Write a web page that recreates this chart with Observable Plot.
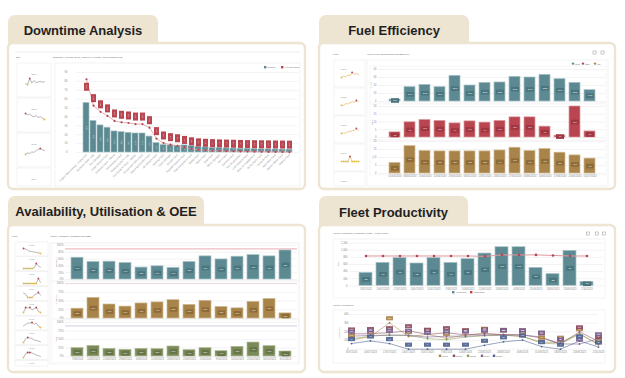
<!DOCTYPE html>
<html><head><meta charset="utf-8">
<script src="https://cdn.jsdelivr.net/npm/d3@7"></script>
<script src="https://cdn.jsdelivr.net/npm/@observablehq/plot@0.6"></script>
<style>
html,body{margin:0;padding:0;background:#fff;}
#root{position:relative;width:625px;height:378px;overflow:hidden;font-family:"Liberation Sans",Arial,sans-serif;}
</style></head><body><div id="root"></div>
<script>
// ---------------- DATA ----------------
const downtimeCats = ["Engine Overheating - Unplanned","Hydraulic Hose Leak","Tyre Damage","Brake System Fault","Electrical Fault - Wiring","Transmission Fault","Cooling System Leak","Fuel System Fault - Injector","Suspension Strut Fault","Steering Cylinder Fault","Air System Fault","Lighting Fault","Body Damage","Sensor Fault","Payload System Fault","Cab Equipment Fault","Radio Fault","Wiper Fault","Seat Fault","Mirror Damage","Horn Fault","Camera Fault","Fire Suppression","Lube System Fault","Ground Engagement","Dump Body Fault","Exhaust Fault","Alternator Fault","Starter Motor Fault","Battery Fault"];
const downtimeHours = [55.7,35.5,30.5,27.9,23.7,22.9,22.1,21.4,21.4,17.9,10.7,8.4,8.0,7.6,8.0,7.3,6.5,5.7,5.0,4.8,4.6,4.4,4.2,4.0,3.8,3.6,3.5,3.4,3.3,3.2];
const downtimePct = [82.4,52.7,45.8,41.2,35.5,34.0,33.2,32.0,32.0,27.9,15.6,10.7,8.8,7.6,5.7,4.2,3.0,2.5,2.1,1.8,1.6,1.4,1.2,1.0,0.9,0.8,0.7,0.6,0.5,0.4];
const downtimeTicks = [0,10,20,30,40,50,60,70,80,90];

const fuelWeeks = ["01/04/2024","08/04/2024","15/04/2024","22/04/2024","29/04/2024","06/05/2024","13/05/2024","20/05/2024","27/05/2024","03/06/2024","10/06/2024","17/06/2024","24/06/2024","01/07/2024"];
const fuelLitres = [2.5,17.9,20.8,17.9,32.1,20.0,23.3,23.8,30.8,30.0,33.3,27.9,23.3,14.2];
const fuelRatio = [3.3,9.8,11.3,10.7,9.1,10.4,9.6,10.7,13.0,13.0,7.0,1.2,20.0,3.9];
const fuelRate = [6.6,17.1,14.0,13.8,13.8,13.8,13.8,14.4,16.1,14.0,15.3,13.0,11.3,9.3];

const availWeeks = ["7/08/2023","14/08/2023","21/08/2023","28/08/2023","4/09/2023","11/09/2023","18/09/2023","25/09/2023","2/10/2023","9/10/2023","16/10/2023","23/10/2023","30/10/2023","6/11/2023"];
const availability = [64,51.5,52.4,48.5,35,38.8,34,51.5,68,59,67,71.8,68,85.4];
const utilisation = [28,59,40,34,43,46,52.4,39,50.5,33,29,47.6,56,14.6];
const oee = [24.5,31,22.5,19.6,22.5,21.6,29.4,18.6,24.5,15.7,28.4,41,30.4,14.7];
const availTarget = 90, utilTarget = 100, oeeTarget = 90;
const pctTicks = [0,20,40,60,80,100];
const pctTicks4 = [0,25,50,75,100];

const prodWeeks = ["3/07/2023","10/07/2023","17/07/2023","24/07/2023","31/07/2023","7/08/2023","14/08/2023","21/08/2023","28/08/2023","4/09/2023","11/09/2023","18/09/2023","25/09/2023","2/10/2023"];
const actualTons = [365,646,778,628,778,646,750,909,1087,1087,506,328,984,112];
const targetTons = [840,840,840,840,840,840,840,830,870,870,870,855,840,840];
const tonTicks = [0,200,400,600,800,1000,1200];

const opNames = ["OP001","OP002","OP003","OP004","OP005"];
const opGold = [107,145,305,145,171,126,164,183,164,145,80,80,179,50];
const opMaroon = [175,180,190,213,170,190,165,175,170,165,130,60,200,90];
const opGreen = [120,150,165,160,120,110,140,155,160,150,70,60,175,60];
const opPurple = [150,160,160,160,140,150,150,160,165,165,140,60,60,120];
const opNavy = [65,95,65,0,0,0,0,45,85,105,30,0,95,25];
const prodTicks = [0,100,200,300,400];

const dtSparkNames = ["DT01","DT02","DT03","DT04"];
const dtSparks = [[3.2,3.0,4.8,3.4,4.2,3.6,3.8,3.9,3.7,3.8],[5.6,5.2,5.4,4.9,4.6,5.0,4.4,4.7,4.2,3.8],[3.0,3.4,3.2,3.6,3.5,3.9,4.2,4.4,4.1,3.9]];
const fuelSparkNames = ["DT01 A","DT02 A","DT03 A","DT04 A","DT05 A"];
const fuelSparks = [[2.0,2.4,2.2,2.8,2.6,3.6,3.0,3.2,2.9],[2.0,2.1,2.5,2.4,2.7,3.0,2.8,3.3,3.0],[2.1,2.3,2.2,2.7,2.6,3.0,2.9,3.6,3.0],[1.0,1.0,1.0,1.0,3.8,1.0,1.0,1.0,1.0]];
const availSparkNames = ["HT001","HT002","HT003","HT004","HT005","HT006","HT007","HT008","HT009"];
const availSparks = [[6,5.5,4.2,3.8,3.4,3.2,2.8,2.2],[2,2,2,2,2,2.2,4,3,2.5],[2,2,2,2,2,2,2,4,2.5],[4,3.5,2,2,2,3,3.5,4.2,3],[2,4,3.8,4,3,3.5,4,2.5,2],[3,3.5,4,4,4.2,3.6,4,3,2.5],[2,3.5,4,3.8,3.6,3,2.8,2.6,2.2],[2,3.5,4,4,3.8,3.4,3,2.8,2.4]];

// ---------------- STYLE ----------------
const FONT = "Liberation Sans, Arial, sans-serif";
const TEAL="#5d8a92", TEAL_L="#a6c2c6", TEAL_D="#4a757d";
const RED="#b8454f", RED_L="#dc9aa1", RED_D="#9f3641";
const GOLD="#a8834a", GOLD_L="#d2bb92", GOLD_D="#8e6c37";
const OLIVE="#7b8a59", OLIVE_L="#b0ba94", OLIVE_D="#66744a";
const MAROON="#8d4a5e", PURPLE="#7c6392", NAVY="#4d6090", GREEN="#8aa05a";
const BEIGE="#ede4d2";
const root = document.getElementById("root");

// ---------------- DECORATION ----------------
const deco = d3.select(root).append("svg").attr("width",625).attr("height",378)
  .style("position","absolute").style("left","0").style("top","0");
function rect(x,y,w,h,a){const r=deco.append("rect").attr("x",x).attr("y",y).attr("width",w).attr("height",h);for(const k in a)r.attr(k,a[k]);return r;}
function text(x,y,s,a){const t=deco.append("text").attr("x",x).attr("y",y).text(s).style("font-family",FONT);for(const k in a)t.attr(k,a[k]);return t;}
function vtext(x,y,s,size){text(x,y,s,{"font-size":size,fill:"#777","text-anchor":"middle",transform:`rotate(-90 ${x} ${y})`});}
const small = (x,y,s,size=2.4,fill="#666")=>text(x,y,s,{"font-size":size,fill});
const panels = [
  {title:"Downtime Analysis", tab:[8,15,150], card:[8,43,297,146], ty:34.5},
  {title:"Fuel Efficiency", tab:[319,15,150], card:[319,43,296,146], ty:35},
  {title:"Availability, Utilisation & OEE", tab:[8,196,196], card:[8,225,297,147], ty:216},
  {title:"Fleet Productivity", tab:[319,196,149], card:[319,225,296,147], ty:216.5}
];
for (const p of panels) {
  rect(p.tab[0],p.tab[1],p.tab[2],36,{rx:7,fill:BEIGE});
  rect(p.card[0],p.card[1],p.card[2],p.card[3],{rx:5,fill:"#fff",stroke:BEIGE,"stroke-width":2.4});
  text(p.tab[0]+p.tab[2]/2,p.ty,p.title,{"text-anchor":"middle","font-size":13,"font-weight":"bold",fill:"#1f1f1f"});
}
const boxStyle = {fill:"#fff",stroke:"#ececec","stroke-width":0.6};
// Panel 1
deco.append("line").attr("x1",15).attr("x2",300).attr("y1",52).attr("y2",52).attr("stroke","#e4e4e4").attr("stroke-width",0.6);
small(16,58,"Site"); small(53,58,"Downtime Analysis: Delay Hours & % of Total - Delay Engineering");
for (let i=0;i<4;i++){const y=63+35*i;rect(17,y,34,Math.min(34,186-y),boxStyle);small(34,y+12,dtSparkNames[i],2,"#888").attr("text-anchor","middle");}
rect(55,63,245,123,boxStyle);
rect(264,66,2.4,2.4,{fill:TEAL}); small(267.5,68.3,"Duration",2.1);
rect(281,66,2.4,2.4,{fill:RED}); small(284.5,68.3,"% of Total Delay",2.1);
// Panel 2
small(333,55,"Fleet"); small(367,55,"Hauler Fuel Consumption and Efficiency");
rect(593,51,3,3,{fill:"none",stroke:"#999","stroke-width":0.5}); rect(601,51,3,3,{fill:"none",stroke:"#999","stroke-width":0.5});
for (let i=0;i<5;i++){const y=60+28*i;rect(334,y,31,Math.min(27,186-y),boxStyle);small(341,y+10,fuelSparkNames[i],2,"#888");}
rect(367,60,241,126,boxStyle);
rect(370,66,236,37,{fill:"none",stroke:"#f0f0f0","stroke-width":0.6});
rect(370,104,236,36,{fill:"none",stroke:"#f0f0f0","stroke-width":0.6});
rect(370,140,236,35,{fill:"none",stroke:"#f0f0f0","stroke-width":0.6});
[[TEAL,573,"Litres"],[RED,583,"Ratio"],[GOLD,595,"L/hr"]].forEach(([c,x,s])=>{deco.append("circle").attr("cx",x).attr("cy",63.6).attr("r",1.2).attr("fill",c);small(x+2,64.5,s,2);});
vtext(372,85,"Litres",2.2); vtext(373,122,"Ratio",2.2); vtext(373,157,"L/hr",2.2);
// Panel 3
small(12,237,"Fleet"); small(50,237,"Hauler Availability, Utilisation and OEE");
for (let i=0;i<9;i++){const y=242+14.8*i;rect(15,y,33,Math.min(14,366-y),boxStyle);small(31.5,y+3.6,availSparkNames[i],1.8,"#888").attr("text-anchor","middle");}
rect(50,243,249,121,boxStyle);
rect(52,243,247,38,{fill:"none",stroke:"#f0f0f0","stroke-width":0.6});
rect(52,281,247,38,{fill:"none",stroke:"#f0f0f0","stroke-width":0.6});
rect(52,320,247,42,{fill:"none",stroke:"#f0f0f0","stroke-width":0.6});
vtext(57,262,"Availability",2.2); vtext(57,300,"Utilisation",2.2); vtext(57,339,"OEE",2.2);
// Panel 4
small(333,234,"Weekly Production (Production Mode + Truck Mode)");
[588,597,604].forEach(x=>rect(x-1.5,232,3,3,{fill:"none",stroke:"#999","stroke-width":0.5}));
rect(333,239,272,59,boxStyle);
rect(452,291,2.4,2.4,{fill:TEAL}); small(456,293.2,"Actual Tons",2);
rect(470,291,2.4,2.4,{fill:RED}); small(474,293.2,"Target Tons",2);
vtext(339,264,"Tons",2.2);
small(333,306,"Weekly Productivity");
rect(333,310,272,53,boxStyle);
vtext(340,332,"Productivity",2.2);
const opColors = [GOLD,MAROON,GREEN,PURPLE,NAVY];
[440,454,468,482,494].forEach((x,i)=>{rect(x-1.2,354.6,2.4,2.4,{fill:opColors[i]});small(x+2,356.8,opNames[i],1.9);});

// ---------------- PLOT HELPERS ----------------
function plotAt(x,y,opts){
  const svg = Plot.plot({...opts, style:{fontFamily:FONT,fontSize:"2.6px",color:"#8a8a8a",background:"transparent",overflow:"visible"}});
  svg.style.position="absolute"; svg.style.left=x+"px"; svg.style.top=y+"px"; svg.style.maxWidth="none";
  root.appendChild(svg);
}
const box = (w,h)=>({draw(ctx){ctx.moveTo(-w/2,-h/2);ctx.lineTo(w/2,-h/2);ctx.lineTo(w/2,h/2);ctx.lineTo(-w/2,h/2);ctx.closePath();}});
function barSet(data, color, light, dark, fmt, opts={}){
  return [
    Plot.barY(data,{x:"k",y:"v",fill:color,stroke:light,strokeWidth:0.7}),
    Plot.dot(data,{x:"k",y:d=>d.v/2,symbol:box(opts.bw||8,opts.bh||4.6),fill:dark,stroke:"none"}),
    Plot.text(data,{x:"k",y:d=>d.v/2,text:d=>fmt(d.v),fill:"white",fontSize:1.9})
  ];
}
function spark(x,y,w,h,vals,stroke){
  const d = vals.map((v,i)=>({i,v}));
  const mx=d3.max(vals), mn=d3.min(vals);
  plotAt(x,y,{width:w,height:h,marginTop:1,marginBottom:1,marginLeft:1,marginRight:1,x:{axis:null},y:{axis:null},marks:[
    Plot.line(d,{x:"i",y:"v",stroke,strokeWidth:0.6}),
    Plot.dot(d.filter(p=>p.v===mx),{x:"i",y:"v",r:0.9,fill:RED}),
    Plot.dot(d.filter(p=>p.v===mn),{x:"i",y:"v",r:0.9,fill:"#e6bd45"})
  ]});
}

// ---------------- PANEL 1: DOWNTIME ----------------
const dt = downtimeCats.map((c,i)=>({k:c,v:downtimeHours[i],p:downtimePct[i],i}));
plotAt(58,64,{
  width:242,height:120,marginLeft:18,marginRight:2,marginTop:8,marginBottom:32,
  x:{type:"band",domain:downtimeCats,padding:0.2,tickSize:0,tickRotate:-45,label:null,tickPadding:2},
  y:{domain:[0,90],ticks:downtimeTicks,grid:true,tickSize:0,label:null},
  marks:[
    Plot.barY(dt,{x:"k",y:"v",fill:TEAL,stroke:TEAL_L,strokeWidth:0.6}),
    Plot.text(dt,{x:"k",y:d=>d.v/2,text:d=>d.v.toFixed(1),rotate:-90,fill:"white",fontSize:1.8}),
    Plot.line(dt,{x:"k",y:"p",stroke:RED_L,strokeWidth:0.8}),
    Plot.dot(dt,{x:"k",y:"p",r:1.1,fill:RED}),
    Plot.dot(dt.filter(d=>d.i>0),{x:"k",y:"p",symbol:box(5,8),fill:RED,stroke:"none",dy:-7.5}),
    Plot.text(dt.filter(d=>d.i>0),{x:"k",y:"p",text:d=>d.p.toFixed(1),rotate:-90,fill:"white",fontSize:1.8,dy:-7.5}),
    Plot.dot(dt.filter(d=>d.i===0),{x:"k",y:"p",symbol:box(5,8),fill:RED,stroke:"none",dy:7.5}),
    Plot.text(dt.filter(d=>d.i===0),{x:"k",y:"p",text:d=>d.p.toFixed(1),rotate:-90,fill:"white",fontSize:1.8,dy:7.5})
  ]
});
dtSparks.forEach((s,i)=>spark(24,63+35*i+14,21,8,s,"#8a8a8a"));

// ---------------- PANEL 2: FUEL ----------------
const fl = fuelWeeks.map((k,i)=>({k,v:fuelLitres[i]}));
const fr = fuelWeeks.map((k,i)=>({k,v:fuelRatio[i]}));
const fh = fuelWeeks.map((k,i)=>({k,v:fuelRate[i]}));
const fuelX = {type:"band",domain:fuelWeeks,padding:0.3,label:null};
plotAt(367,66,{width:241,height:37,marginLeft:11,marginRight:3,marginTop:3,marginBottom:2,
  x:{...fuelX,axis:null},y:{domain:[0,40],ticks:[0,10,20,30,40],grid:true,tickSize:0,label:null,tickPadding:2},
  marks:barSet(fl,TEAL,TEAL_L,TEAL_D,v=>v.toFixed(2))});
plotAt(367,103,{width:241,height:37,marginLeft:11,marginRight:3,marginTop:3,marginBottom:3,
  x:{...fuelX,axis:null},y:{domain:[0,20],ticks:[0,5,10,15,20],grid:true,tickSize:0,label:null,tickPadding:2},
  marks:barSet(fr,RED,RED_L,RED_D,v=>v.toFixed(1))});
plotAt(367,138,{width:241,height:48,marginLeft:11,marginRight:3,marginTop:3,marginBottom:13,
  x:{...fuelX,tickSize:0,tickPadding:2,fontSize:2},y:{domain:[0,20],ticks:[0,5,10,15,20],grid:true,tickSize:0,label:null,tickPadding:2},
  marks:barSet(fh,GOLD,GOLD_L,GOLD_D,v=>v.toFixed(1))});
fuelSparks.forEach((s,i)=>spark(340,60+28*i+11,19,7,s,"#d9b24c"));

// ---------------- PANEL 3: AVAILABILITY ----------------
const av = availWeeks.map((k,i)=>({k,v:availability[i]}));
const ut = availWeeks.map((k,i)=>({k,v:utilisation[i]}));
const oe = availWeeks.map((k,i)=>({k,v:oee[i]}));
const avX = {type:"band",domain:availWeeks,padding:0.22,label:null};
const pctFmt = d=>d+"%";
plotAt(52,242,{width:248,height:40,marginLeft:13,marginRight:3,marginTop:3,marginBottom:3,
  x:{...avX,axis:null},y:{domain:[0,100],ticks:pctTicks,tickFormat:pctFmt,grid:true,tickSize:0,label:null,tickPadding:2},
  marks:[...barSet(av,TEAL,TEAL_L,TEAL_D,v=>Math.round(v)+"%",{bw:7.5}),Plot.ruleY([availTarget],{stroke:"#e8a3a8",strokeWidth:0.9})]});
plotAt(52,280,{width:248,height:41,marginLeft:13,marginRight:3,marginTop:3,marginBottom:3,
  x:{...avX,axis:null},y:{domain:[0,100],ticks:pctTicks4,tickFormat:pctFmt,grid:true,tickSize:0,label:null,tickPadding:2},
  marks:[...barSet(ut,GOLD,GOLD_L,GOLD_D,v=>Math.round(v)+"%",{bw:7.5}),Plot.ruleY([utilTarget],{stroke:"#e6d6da",strokeWidth:0.9})]});
plotAt(52,319,{width:248,height:44,marginLeft:13,marginRight:3,marginTop:3,marginBottom:7,
  x:{...avX,tickSize:0,tickPadding:2},y:{domain:[0,100],ticks:pctTicks4,tickFormat:pctFmt,grid:true,tickSize:0,label:null,tickPadding:2},
  marks:[...barSet(oe,OLIVE,OLIVE_L,OLIVE_D,v=>Math.round(v)+"%",{bw:7.5}),Plot.ruleY([oeeTarget],{stroke:"#cdcbdc",strokeWidth:0.9})]});
availSparks.forEach((s,i)=>spark(22,242+14.8*i+5,19,7,s,"#8a8a8a"));

// ---------------- PANEL 4: FLEET PRODUCTIVITY ----------------
const pr = prodWeeks.map((k,i)=>({k,v:actualTons[i],t:targetTons[i]}));
plotAt(333,240,{width:272,height:52,marginLeft:16,marginRight:2,marginTop:2.7,marginBottom:6.7,
  x:{type:"band",domain:prodWeeks,padding:0.25,label:null,tickSize:0,tickPadding:2},
  y:{domain:[0,1200],ticks:tonTicks,grid:true,tickSize:0,label:null,tickPadding:2},
  marks:[...barSet(pr,TEAL,TEAL_L,TEAL_D,v=>v.toLocaleString("en-US"),{bw:8}),
    Plot.line(pr,{x:"k",y:"t",stroke:RED_L,strokeWidth:1}),
    Plot.dot(pr,{x:"k",y:"t",r:1.3,fill:RED})]});
const series = [opGold,opMaroon,opGreen,opPurple,opNavy];
const pl = series.flatMap((vals,j)=>vals.map((v,i)=>({k:prodWeeks[i],v,s:opNames[j]})));
const labelled = pl.filter(d=>d.s!=="OP003");
plotAt(333,311,{width:272,height:45,marginLeft:17,marginRight:7,marginTop:3,marginBottom:7.3,
  x:{type:"point",domain:prodWeeks,padding:0,label:null,tickSize:0,tickPadding:2},
  y:{domain:[0,400],ticks:prodTicks,grid:true,tickSize:0,label:null,tickPadding:2},
  color:{domain:opNames,range:opColors},
  marks:[
    Plot.line(pl,{x:"k",y:"v",stroke:"s",strokeWidth:0.7,strokeOpacity:0.8}),
    Plot.dot(pl,{x:"k",y:"v",fill:"s",r:0.9}),
    Plot.dot(labelled,{x:"k",y:"v",fill:"s",symbol:box(7,4.2),stroke:"none",dy:-4.5,fillOpacity:0.9}),
    Plot.text(labelled,{x:"k",y:"v",text:d=>String(d.v),fill:"white",fontSize:1.8,dy:-4.5})
  ]});
</script></body></html>
